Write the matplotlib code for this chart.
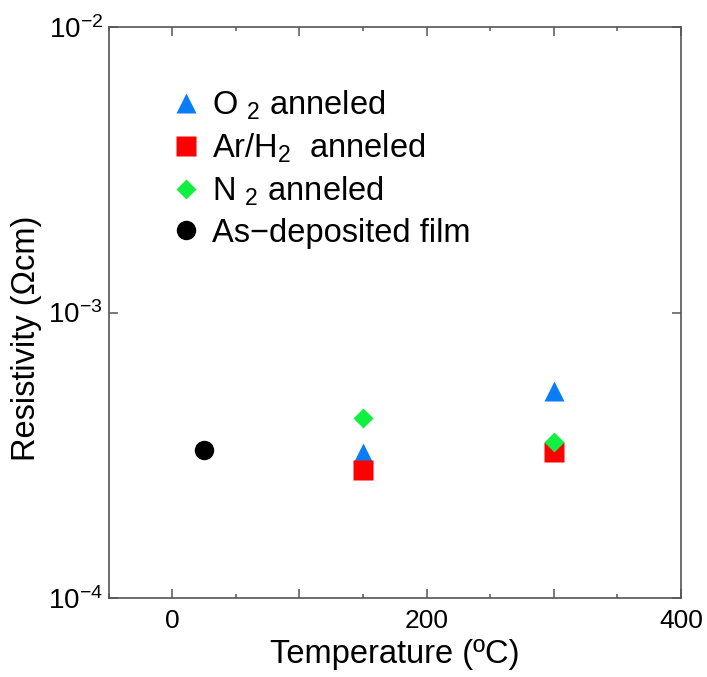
import math
import matplotlib
matplotlib.use("Agg")
import matplotlib.pyplot as plt
from matplotlib.ticker import MultipleLocator, FuncFormatter, NullLocator, FixedLocator

plt.rcParams['font.family'] = ['Liberation Sans', 'DejaVu Sans']
plt.rcParams['mathtext.fontset'] = 'custom'
plt.rcParams['mathtext.rm'] = 'Liberation Sans'
plt.rcParams['mathtext.it'] = 'Liberation Sans:italic'
plt.rcParams['mathtext.bf'] = 'Liberation Sans:bold'

# Data
o2_temp = [150, 300]
o2_res = [3.21e-4, 5.33e-4]
arh2_temp = [150, 300]
arh2_res = [2.81e-4, 3.25e-4]
n2_temp = [150, 300]
n2_res = [4.26e-4, 3.51e-4]
asdep_temp = [25]
asdep_res = [3.31e-4]

labels = [r'O $_{2}$ anneled', r'Ar/H$_{2}$  anneled', r'N $_{2}$ anneled', 'As\u2212deposited film']
x_ticklabels = {0: '0', 200: '200', 400: '400'}

fig = plt.figure(figsize=(7.07, 6.77), dpi=100)
ax = fig.add_axes([0.1535, 0.1167, 0.8097, 0.8434])

ax.plot(o2_temp, o2_res, linestyle='none', marker='^', ms=14, color='#0a7cf5', mec='none', label=labels[0])
ax.plot(arh2_temp, arh2_res, linestyle='none', marker='s', ms=14, color='#ff0000', mec='none', label=labels[1])
ax.plot(n2_temp, n2_res, linestyle='none', marker='D', ms=10, color='#11f040', mec='none', label=labels[2])
ax.plot(asdep_temp, asdep_res, linestyle='none', marker='o', ms=14, color='#000000', mec='none', label=labels[3])

ax.set_yscale('log')
ax.set_xlim(-50, 400)
ax.set_ylim(1e-4, 1e-2)

ax.xaxis.set_major_locator(MultipleLocator(100))
ax.xaxis.set_minor_locator(MultipleLocator(50))
ax.xaxis.set_major_formatter(FuncFormatter(lambda v, p: x_ticklabels.get(int(round(v)), '')))
ax.yaxis.set_major_locator(FixedLocator([1e-4, 1e-3, 1e-2]))
ax.yaxis.set_minor_locator(NullLocator())
ax.yaxis.set_major_formatter(FuncFormatter(lambda v, p: r'$10^{%d}$' % round(math.log10(v))))

spine_color = '#555555'
for s in ax.spines.values():
    s.set_color(spine_color)
    s.set_linewidth(1.2)
ax.tick_params(which='both', direction='in', top=True, right=True, color=spine_color, width=1.1)
ax.tick_params(which='major', length=6.5, pad=8)
ax.tick_params(which='minor', length=3.2)
ax.tick_params(axis='x', labelsize=19)
ax.tick_params(axis='y', labelsize=20, pad=4)

ax.set_xlabel('Temperature (ºC)', fontsize=23.5, labelpad=4)
ax.set_ylabel('Resistivity (Ωcm)', fontsize=23.5, labelpad=5)
ax.yaxis.set_label_coords(-0.117, 0.455)

leg = ax.legend(loc='upper left', bbox_to_anchor=(0.112, 0.893), frameon=False, fontsize=23.5,
                handlelength=0.8, handletextpad=0.4, labelspacing=0.3, borderaxespad=0, borderpad=0)

fig.savefig('out.png', dpi=100)
